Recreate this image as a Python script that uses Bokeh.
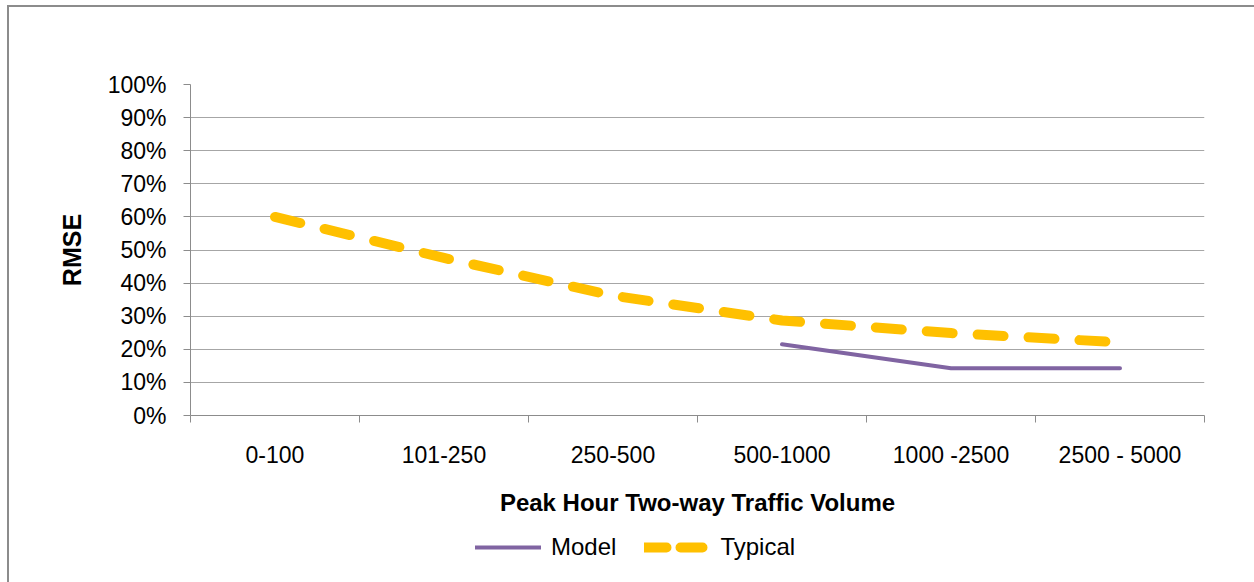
import numpy as np
from bokeh.plotting import figure
from bokeh.layouts import column
from bokeh.models import (ColumnDataSource, FixedTicker, NumeralTickFormatter,
                          Legend, LegendItem, Range1d)
from bokeh.embed import file_html
from bokeh.resources import INLINE

categories = ["0-100", "101-250", "250-500", "500-1000", "1000 -2500", "2500 - 5000"]
model = [None, None, None, 0.215, 0.143, 0.143]
typical = [0.60, 0.476, 0.362, 0.287, 0.249, 0.221]
y_ticks = [0.0, 0.1, 0.2, 0.3, 0.4, 0.5, 0.6, 0.7, 0.8, 0.9, 1.0]

FONT = "Liberation Sans"
PURPLE = "#8064A2"
YELLOW = "#FFC000"
GRID = "#a6a6a6"
AXIS = "#8c8c8c"
W = 1254
H_MAIN = 518
H_LEG = 64

xpos = [i + 0.5 for i in range(len(categories))]
src = ColumnDataSource(dict(
    x=xpos,
    model=[np.nan if v is None else v for v in model],
    typical=typical,
))

p = figure(width=W, height=H_MAIN, output_backend="svg", toolbar_location=None,
           x_range=Range1d(0, len(categories)), y_range=Range1d(0, 1),
           min_border_left=190, min_border_right=50, min_border_top=84,
           min_border_bottom=102)
p.outline_line_color = None
p.background_fill_color = "white"
p.border_fill_alpha = 0

p.line("x", "typical", source=src, line_color=YELLOW, line_width=10,
       line_dash="26 25", line_cap="round", line_join="round")
p.line("x", "model", source=src, line_color=PURPLE, line_width=4,
       line_cap="round", line_join="round")

# y axis
p.yaxis.ticker = FixedTicker(ticks=y_ticks)
p.yaxis.formatter = NumeralTickFormatter(format="0%")
p.yaxis.axis_label = "RMSE"
p.yaxis.axis_label_text_font = FONT
p.yaxis.axis_label_text_font_style = "bold"
p.yaxis.axis_label_text_font_size = "25px"
p.yaxis.axis_label_text_color = "black"
p.yaxis.axis_label_standoff = 19
p.yaxis.major_label_text_font = FONT
p.yaxis.major_label_text_font_size = "23px"
p.yaxis.major_label_text_color = "black"
p.yaxis.major_label_standoff = 17
p.yaxis.major_tick_out = 7
p.yaxis.major_tick_in = 0
p.yaxis.minor_tick_line_color = None
p.yaxis.axis_line_color = AXIS
p.yaxis.major_tick_line_color = AXIS

# x axis: labels at category centres, ticks at category boundaries
p.xaxis.ticker = FixedTicker(ticks=xpos, minor_ticks=list(range(len(categories) + 1)))
p.xaxis.major_label_overrides = {x: c for x, c in zip(xpos, categories)}
p.xaxis.axis_label = "Peak Hour Two-way Traffic Volume"
p.xaxis.axis_label_text_font = FONT
p.xaxis.axis_label_text_font_style = "bold"
p.xaxis.axis_label_text_font_size = "24px"
p.xaxis.axis_label_text_color = "black"
p.xaxis.axis_label_standoff = 18
p.xaxis.major_label_text_font = FONT
p.xaxis.major_label_text_font_size = "23px"
p.xaxis.major_label_text_color = "black"
p.xaxis.major_label_standoff = 19
p.xaxis.major_tick_out = 0
p.xaxis.major_tick_in = 0
p.xaxis.minor_tick_out = 7
p.xaxis.minor_tick_in = 0
p.xaxis.minor_tick_line_color = AXIS
p.xaxis.axis_line_color = AXIS

p.xgrid.grid_line_color = None
p.ygrid.ticker = FixedTicker(ticks=y_ticks)
p.ygrid.grid_line_color = GRID
p.ygrid.grid_line_width = 1

# legend strip underneath the chart (legend swatches kept outside the visible range)
pl = figure(width=W, height=H_LEG, output_backend="svg", toolbar_location=None,
            x_axis_location=None, y_axis_location=None,
            x_range=Range1d(0, 1), y_range=Range1d(0, 1),
            min_border=0)
pl.outline_line_color = None
pl.grid.visible = False
pl.background_fill_alpha = 0
pl.border_fill_alpha = 0
lm = pl.line(x=[-10, -9], y=[-10, -9], line_color=PURPLE, line_width=4,
             line_cap="round")
lt = pl.line(x=[-10, -9], y=[-10, -9], line_color=YELLOW, line_width=10,
             line_dash="22 14", line_cap="round")
legend = Legend(items=[LegendItem(label="Model", renderers=[lm]),
                       LegendItem(label="Typical", renderers=[lt])],
                orientation="horizontal", location=(285, 21),
                glyph_width=66, glyph_height=20, label_standoff=10, spacing=28,
                label_text_font=FONT, label_text_font_size="24px",
                label_text_color="black", border_line_color=None,
                background_fill_alpha=0, margin=0, padding=10)
pl.add_layout(legend, "center")

layout = column(p, pl, spacing=0)
layout.styles = {
    "background-color": "white",
    "background-image": "linear-gradient(#8c8c8c, #8c8c8c), linear-gradient(#8c8c8c, #8c8c8c)",
    "background-size": "2px 100%, 100% 2px",
    "background-position": "7px 5px, 7px 5px",
    "background-repeat": "no-repeat",
}

open("out.html", "w").write(file_html(layout, INLINE))
